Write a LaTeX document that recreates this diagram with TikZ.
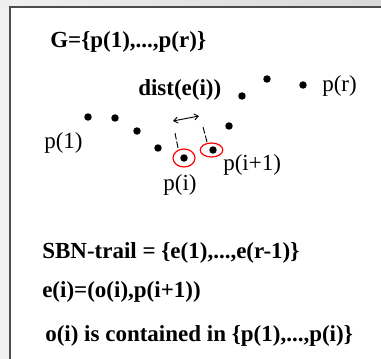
\documentclass[tikz,border=0pt]{standalone}
\usepackage{fontspec}
\setmainfont{Liberation Serif}
\usetikzlibrary{shapes.geometric,arrows.meta}
\begin{document}
\begin{tikzpicture}[
x=0.75pt, y=-0.75pt,
font=\fontsize{17.25}{20}\selectfont,
pnt/.style={circle, fill=black, inner sep=0pt, minimum size=5.6pt},
ring/.style={ellipse, draw=red, line width=0.9pt, inner sep=0pt},
lbl/.style={inner sep=0pt, anchor=west},
bold/.style={lbl, font=\fontsize{17.25}{20}\selectfont\bfseries},
dimline/.style={line width=0.7pt, dash pattern=on 5pt off 1.5pt},
dimarrow/.style={{Straight Barb[length=3pt,width=4.5pt]}-{Straight Barb[length=3pt,width=4.5pt]}, line width=0.7pt}
]
\useasboundingbox (0,0) rectangle (381,359);
\fill[gray!12] (0,0) rectangle (381,359);
\shade[left color=gray!12, right color=gray!30] (0,0) rectangle (381,7);
\fill[white] (10,7) rectangle (381,359);
\draw[gray!60!black, line width=1.2pt] (10,360) -- (10,7) -- (382,7);

\foreach \x/\y [count=\k] in {88/117,115/118,137/131,158/148,184/158,213/150,229/126,242/96,267/79,303/85}
  \node[pnt] (p\k) at (\x,\y) {};
\node[ring, minimum width=16.5pt, minimum height=13.5pt] (oi) at (p5) {};
\node[ring, minimum width=17pt, minimum height=10.5pt] (pnext) at (211.5,150) {};

\coordinate (a1) at (178,148);
\coordinate (a2) at (175,133);
\coordinate (b1) at (207,142);
\coordinate (b2) at (203,127);
\coordinate (d1) at (173,121);
\coordinate (d2) at (199,116);
\draw[dimline] (a1) -- (a2);
\draw[dimline] (b1) -- (b2);
\draw[dimarrow] (d1) -- (d2);

\node[bold] (set) at (50,42) {G=\{p(1),...,p(r)\}};
\node[bold] (dist) at (138,90) {dist(e(i))};
\node[lbl] (lr) at (322,86) {p(r)};
\node[lbl] (l1) at (44,143) {p(1)};
\node[lbl] (li1) at (223,165) {p(i+1)};
\node[inner sep=0pt] (li) at (180,185) {p(i)};
\node[bold] (trail) at (42,253) {SBN-trail = \{e(1),...,e(r-1)\}};
\node[bold] (edge) at (42,292) {e(i)=(o(i),p(i+1))};
\node[bold] (cont) at (45,336) {o(i) is contained in \{p(1),...,p(i)\}};
\end{tikzpicture}
\end{document}
